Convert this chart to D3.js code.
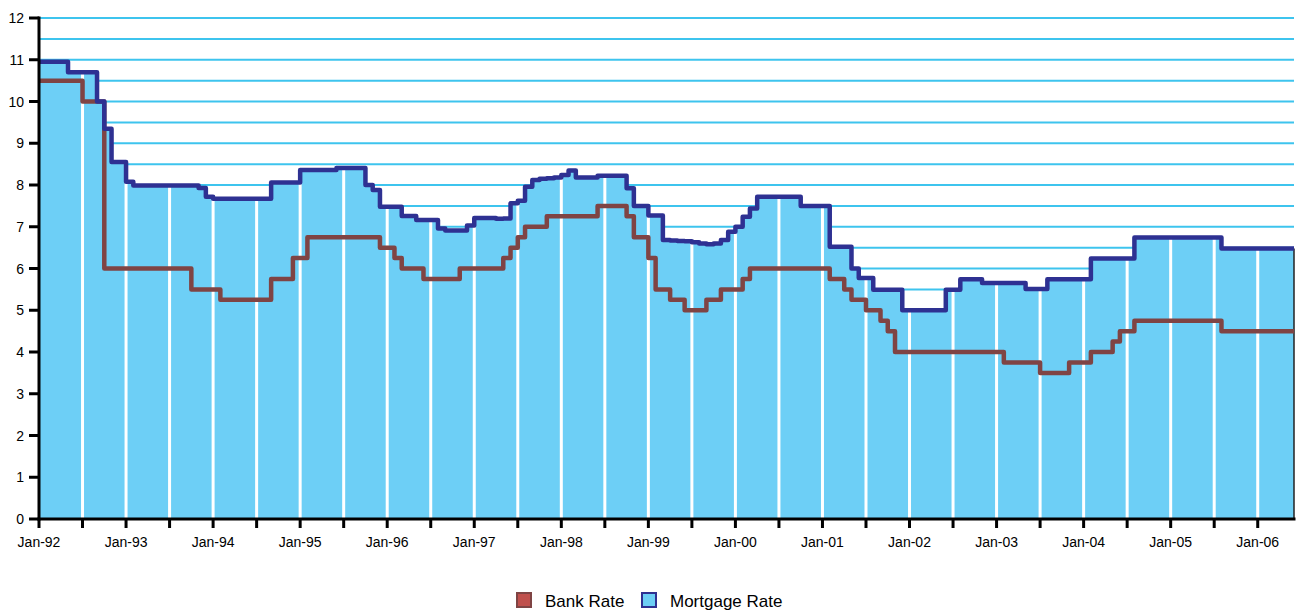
<!DOCTYPE html>
<head>
  <meta charset="utf-8">
  <script src="https://d3js.org/d3.v7.min.js"></script>
  <style>
    body { margin:0; background:white; }
    .tickText { font-family: 'Liberation Sans', Arial, sans-serif; font-size: 14px; fill: black; }
    .legendText { font-family: 'Liberation Sans', Arial, sans-serif; font-size: 17px; fill: black; }
  </style>
</head>
<body>
<script>
  // first month of the series and the month after the last one
  const startMonth = new Date(1992, 0, 1);
  const endMonth = new Date(2006, 6, 1);

  // bank rate, one value per month (Jan-92 .. Jun-06)
  const bankRate = [
    10.5,10.5,10.5,10.5,10.5,10.5,10,10,10,6,6,6,
    6,6,6,6,6,6,6,6,6,5.5,5.5,5.5,
    5.5,5.25,5.25,5.25,5.25,5.25,5.25,5.25,5.75,5.75,5.75,6.25,
    6.25,6.75,6.75,6.75,6.75,6.75,6.75,6.75,6.75,6.75,6.75,6.5,
    6.5,6.25,6,6,6,5.75,5.75,5.75,5.75,5.75,6,6,
    6,6,6,6,6.25,6.5,6.75,7,7,7,7.25,7.25,
    7.25,7.25,7.25,7.25,7.25,7.5,7.5,7.5,7.5,7.25,6.75,6.75,
    6.25,5.5,5.5,5.25,5.25,5,5,5,5.25,5.25,5.5,5.5,
    5.5,5.75,6,6,6,6,6,6,6,6,6,6,
    6,5.75,5.75,5.5,5.25,5.25,5,5,4.75,4.5,4,4,
    4,4,4,4,4,4,4,4,4,4,4,4,
    4,3.75,3.75,3.75,3.75,3.75,3.5,3.5,3.5,3.5,3.75,3.75,
    3.75,4,4,4,4.25,4.5,4.5,4.75,4.75,4.75,4.75,4.75,
    4.75,4.75,4.75,4.75,4.75,4.75,4.75,4.5,4.5,4.5,4.5,4.5,
    4.5,4.5,4.5,4.5,4.5,4.5
  ];

  // mortgage rate, one value per month (Jan-92 .. Jun-06)
  const mortgageRate = [
    10.95,10.95,10.95,10.95,10.7,10.7,10.7,10.7,10,9.35,8.55,8.55,
    8.08,7.99,7.99,7.99,7.99,7.99,7.99,7.99,7.99,7.99,7.93,7.72,
    7.67,7.67,7.67,7.67,7.67,7.67,7.67,7.67,8.06,8.06,8.06,8.06,
    8.36,8.36,8.36,8.36,8.36,8.41,8.41,8.41,8.41,8.0,7.88,7.48,
    7.48,7.48,7.26,7.26,7.16,7.16,7.16,6.96,6.91,6.91,6.91,7.03,
    7.21,7.21,7.21,7.19,7.2,7.56,7.62,7.96,8.12,8.15,8.16,8.18,
    8.24,8.35,8.18,8.18,8.18,8.22,8.22,8.22,8.22,7.92,7.5,7.5,
    7.27,7.27,6.68,6.67,6.66,6.65,6.63,6.6,6.58,6.6,6.68,6.88,
    7.0,7.24,7.44,7.72,7.72,7.72,7.72,7.72,7.72,7.5,7.5,7.5,
    7.5,6.52,6.52,6.52,6.0,5.77,5.77,5.49,5.49,5.49,5.49,5.0,
    5.0,5.0,5.0,5.0,5.0,5.49,5.49,5.74,5.74,5.74,5.65,5.65,
    5.65,5.65,5.65,5.65,5.51,5.51,5.51,5.74,5.74,5.74,5.74,5.74,
    5.74,6.24,6.24,6.24,6.24,6.24,6.24,6.74,6.74,6.74,6.74,6.74,
    6.74,6.74,6.74,6.74,6.74,6.74,6.74,6.48,6.48,6.48,6.48,6.48,
    6.48,6.48,6.48,6.48,6.48,6.48
  ];

  const yTicks = [0,1,2,3,4,5,6,7,8,9,10,11,12];
  const legendItems = ['Bank Rate', 'Mortgage Rate'];

  const months = d3.timeMonth.range(startMonth, endMonth);
  const data = months.map((m, i) => ({ i: i, date: m, bank: bankRate[i], mort: mortgageRate[i] }));

  const width = 1302, height = 611;
  const plotLeft = 39, plotRight = 1294, plotTop = 18, plotBottom = 519;

  const svg = d3.select('body').append('svg')
      .attr('width', width)
      .attr('height', height)
      .style('display', 'block');

  // category style x axis: one slot per month
  const x = d3.scaleLinear().domain([0, months.length - 1]).range([plotLeft, plotRight]);
  const y = d3.scaleLinear().domain([0, 12]).range([plotBottom, plotTop]);

  // horizontal gridlines every half point
  svg.append('g')
    .selectAll('line')
    .data(d3.range(1, 25).map(d => d / 2))
    .enter().append('line')
    .attr('x1', plotLeft).attr('x2', plotRight)
    .attr('y1', d => y(d)).attr('y2', d => y(d))
    .style('stroke', '#3ec4ee')
    .style('stroke-width', 2);

  const area = d3.area()
      .curve(d3.curveStepAfter)
      .x(d => x(d.i))
      .y0(y(0))
      .y1(d => y(d.mort));

  svg.append('path')
    .datum(data)
    .attr('d', area)
    .style('fill', '#6dcff6');

  // white separators every six months, only inside the area
  svg.append('clipPath').attr('id', 'areaClip')
    .append('path').datum(data).attr('d', area);

  const halfYears = data.filter(d => d.i > 0 && d.date.getMonth() % 6 === 0);

  svg.append('g')
    .attr('clip-path', 'url(#areaClip)')
    .selectAll('line')
    .data(halfYears)
    .enter().append('line')
    .attr('x1', d => x(d.i)).attr('x2', d => x(d.i))
    .attr('y1', plotBottom).attr('y2', plotTop)
    .style('stroke', 'white')
    .style('stroke-width', 3);

  // thin dark edge on the right end of the area
  svg.append('line')
    .attr('x1', plotRight).attr('x2', plotRight)
    .attr('y1', y(mortgageRate[mortgageRate.length - 1])).attr('y2', plotBottom)
    .style('stroke', '#222')
    .style('stroke-width', 1.5);

  const line = key => d3.line()
      .curve(d3.curveStepAfter)
      .x(d => x(d.i))
      .y(d => y(d[key]));

  svg.append('path')
    .datum(data)
    .attr('d', line('bank'))
    .style('fill', 'none')
    .style('stroke', '#7f4444')
    .style('stroke-width', 4.5)
    .style('stroke-linejoin', 'round');

  svg.append('path')
    .datum(data)
    .attr('d', line('mort'))
    .style('fill', 'none')
    .style('stroke', '#2e3192')
    .style('stroke-width', 4.5)
    .style('stroke-linejoin', 'round');

  // y axis
  const yAxis = svg.append('g');
  yAxis.append('line')
    .attr('x1', plotLeft).attr('x2', plotLeft)
    .attr('y1', plotTop - 1.5).attr('y2', plotBottom + 1.5)
    .style('stroke', 'black').style('stroke-width', 3);
  yAxis.selectAll('.ytick')
    .data(yTicks)
    .enter().append('line')
    .attr('x1', plotLeft - 10).attr('x2', plotLeft)
    .attr('y1', d => y(d)).attr('y2', d => y(d))
    .style('stroke', 'black').style('stroke-width', 3);
  yAxis.selectAll('text')
    .data(yTicks)
    .enter().append('text')
    .classed('tickText', true)
    .attr('x', plotLeft - 15)
    .attr('y', d => y(d))
    .attr('dy', '0.36em')
    .attr('text-anchor', 'end')
    .text(d => d);

  // x axis
  const fmt = d3.timeFormat('%b-%y');
  const xAxis = svg.append('g');
  xAxis.append('line')
    .attr('x1', plotLeft - 1.5).attr('x2', plotRight + 1.5)
    .attr('y1', plotBottom).attr('y2', plotBottom)
    .style('stroke', 'black').style('stroke-width', 3);
  xAxis.selectAll('.xtick')
    .data(data.filter(d => d.date.getMonth() % 6 === 0))
    .enter().append('line')
    .attr('x1', d => x(d.i)).attr('x2', d => x(d.i))
    .attr('y1', plotBottom).attr('y2', plotBottom + 9)
    .style('stroke', 'black').style('stroke-width', 3);
  xAxis.selectAll('text')
    .data(data.filter(d => d.date.getMonth() === 0))
    .enter().append('text')
    .classed('tickText', true)
    .attr('x', d => x(d.i))
    .attr('y', plotBottom + 28)
    .attr('text-anchor', 'middle')
    .text(d => fmt(d.date));

  // legend
  const legend = svg.append('g').attr('transform', 'translate(517, 593)');
  const legendFill = ['#c0504d', '#6dcff6'];
  const legendStroke = ['#7f4444', '#2e3192'];
  const legendX = [0, 125];
  legendItems.forEach((name, i) => {
    legend.append('rect')
      .attr('x', legendX[i]).attr('y', 0)
      .attr('width', 14).attr('height', 14)
      .style('fill', legendFill[i])
      .style('stroke', legendStroke[i])
      .style('stroke-width', 2);
    legend.append('text')
      .classed('legendText', true)
      .attr('x', legendX[i] + 28)
      .attr('y', 14)
      .text(name);
  });
</script>
</body>
